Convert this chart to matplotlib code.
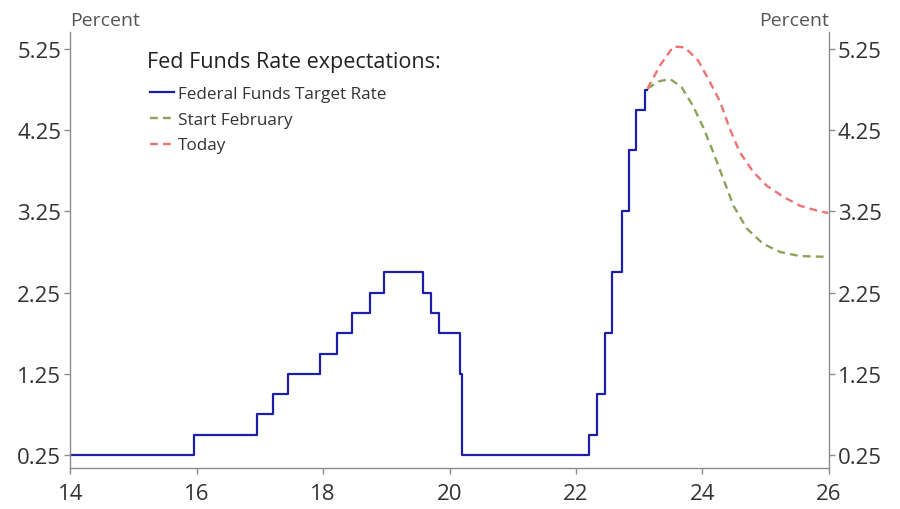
import numpy as np
import matplotlib.pyplot as plt

# Federal funds target rate (upper bound), x in years since 2000
ffr_x = [14.0, 15.96, 16.95, 17.20, 17.45, 17.95, 18.22, 18.45, 18.74, 18.97,
         19.58, 19.71, 19.83, 20.17, 20.20, 22.21, 22.34, 22.46, 22.57, 22.72,
         22.84, 22.95, 23.09, 23.13]
ffr_y = [0.25, 0.50, 0.75, 1.00, 1.25, 1.50, 1.75, 2.00, 2.25, 2.50,
         2.25, 2.00, 1.75, 1.25, 0.25, 0.50, 1.00, 1.75, 2.50, 3.25,
         4.00, 4.50, 4.75, 4.75]

# market expectations at start of February
feb_x = [23.13, 23.30, 23.49, 23.67, 23.85, 24.01, 24.17, 24.33, 24.49, 24.70,
         24.96, 25.23, 25.54, 25.99]
feb_y = [4.76, 4.85, 4.88, 4.78, 4.55, 4.29, 3.98, 3.65, 3.32, 3.04,
         2.85, 2.75, 2.70, 2.69]

# market expectations today
today_x = [23.13, 23.33, 23.54, 23.72, 23.93, 24.12, 24.28, 24.43, 24.59, 24.80,
           25.01, 25.28, 25.54, 25.81, 25.99]
today_y = [4.76, 5.05, 5.28, 5.27, 5.11, 4.84, 4.60, 4.27, 3.98, 3.74,
           3.57, 3.43, 3.32, 3.26, 3.23]

yticks = [0.25, 1.25, 2.25, 3.25, 4.25, 5.25]
xticks = [14, 16, 18, 20, 22, 24, 26]

plt.rcParams['font.family'] = ['Open Sans', 'DejaVu Sans']

fig = plt.figure(figsize=(9, 5.1), dpi=100)
ax = fig.add_axes([0.078, 0.0804, 0.843, 0.855])

ax.plot(ffr_x, ffr_y, color='#1c1fa8', linewidth=1.6, drawstyle='steps-post',
        label='Federal Funds Target Rate')
ax.plot(feb_x, feb_y, color='#8aa35a', linewidth=1.7, dashes=(3.3, 2.2),
        label='Start February')
ax.plot(today_x, today_y, color='#f07272', linewidth=1.7, dashes=(3.3, 2.2),
        label='Today')

ax.set_xlim(14, 26)
ax.set_ylim(0.09, 5.46)
ax.set_xticks(xticks)
ax.set_xticklabels([str(t) for t in xticks])
ax.set_yticks(yticks)
ax.set_yticklabels(['%.2f' % t for t in yticks])

for s in ['left', 'right', 'bottom']:
    ax.spines[s].set_color('#8c8c8c')
    ax.spines[s].set_linewidth(1.0)
ax.spines['top'].set_visible(False)
ax.tick_params(axis='both', colors='#8c8c8c', labelcolor='#333333',
               labelsize=16, length=4.5, width=1.0)
ax.tick_params(axis='y', right=True, labelright=True, pad=2)
ax.tick_params(axis='x', pad=6)

ax.text(0.0, 1.016, 'Percent', transform=ax.transAxes, ha='left', va='baseline',
        fontsize=14, color='#555555')
ax.text(1.0, 1.016, 'Percent', transform=ax.transAxes, ha='right', va='baseline',
        fontsize=14, color='#555555')

fig.text(0.1633, 0.8667, 'Fed Funds Rate expectations:', ha='left', va='baseline',
         fontsize=15.5, color='#222222')
leg = fig.legend(loc='upper left', bbox_to_anchor=(0.1667, 0.8294), frameon=False,
                 fontsize=12.3, handlelength=1.4, handletextpad=0.25,
                 labelspacing=0.57, borderpad=0, borderaxespad=0)
for t in leg.get_texts():
    t.set_color('#333333')

fig.savefig('out.png', dpi=100)
